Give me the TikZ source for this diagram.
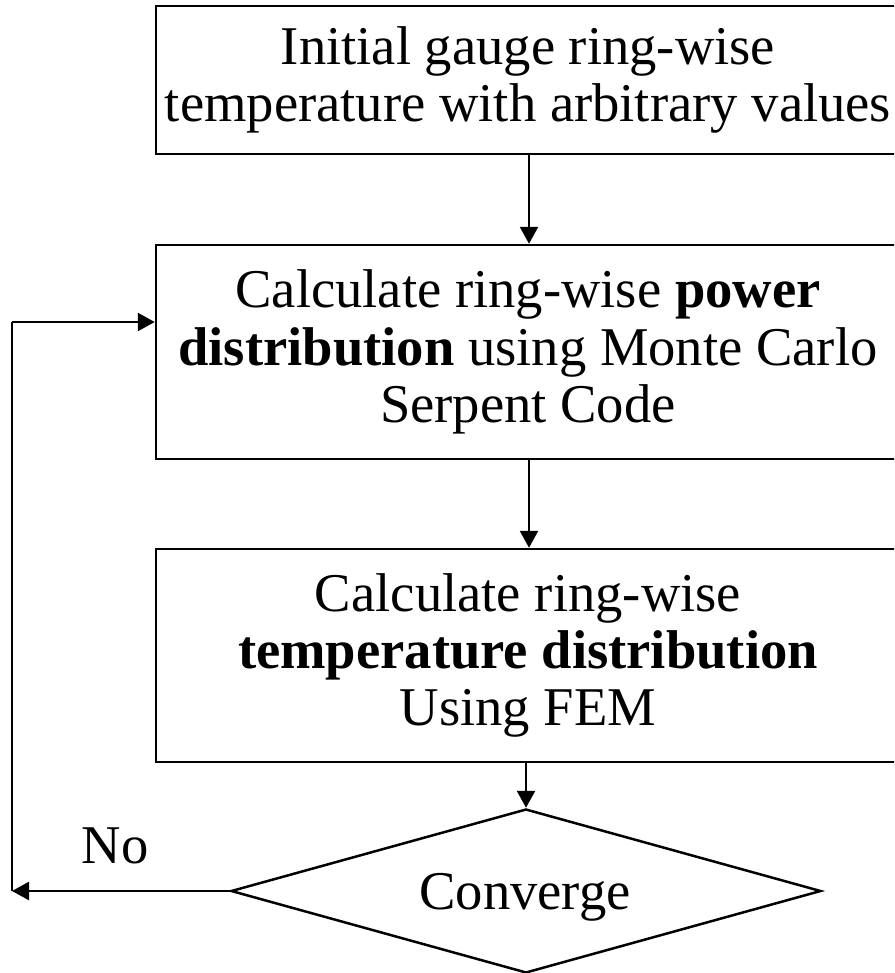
\documentclass[tikz,border=0pt]{standalone}
\usepackage{fontspec}
\setmainfont{Liberation Serif}
\usetikzlibrary{shapes.geometric,arrows.meta}

\tikzset{
  flowbox/.style={draw, line width=1.25pt, rectangle, align=center,
    minimum width=372pt, inner sep=0pt,
    font=\fontsize{27.3pt}{28.6pt}\selectfont},
  decide/.style={draw, line width=1.25pt, diamond, inner sep=0pt,
    minimum width=295pt, minimum height=82pt,
    font=\fontsize{27.3pt}{28.6pt}\selectfont},
  flowlabel/.style={inner sep=0pt, font=\fontsize{27.3pt}{28.6pt}\selectfont},
  arr/.style={line width=1.25pt, -{Triangle[length=8.5pt,width=9pt]}},
  link/.style={line width=1pt}
}

\begin{document}
\begin{tikzpicture}[x=0.5pt, y=-0.5pt]
  \useasboundingbox (0,0) rectangle (894,973);
  \clip (0,0) rectangle (894,973);

  % process boxes (they run past the right margin)
  \node[flowbox, minimum height=74pt] (init) at (528,80)
    {Initial gauge ring-wise\\temperature with arbitrary values};
  \node[flowbox, minimum height=107pt] (power) at (528,352)
    {Calculate ring-wise \textbf{power}\\\textbf{distribution} using Monte Carlo\\Serpent Code};
  \node[flowbox, minimum height=106.5pt] (temp) at (528,655.5)
    {Calculate ring-wise\\\textbf{temperature distribution}\\Using FEM};

  % convergence check
  \node[decide] (conv) at (526,891) {};
  \node[flowlabel] at (525,897) {Converge};

  % main flow
  \draw[arr] (init.south -| 529,0) -- (power.north -| 529,0);
  \draw[arr] (power.south -| 529,0) -- (temp.north -| 529,0);
  \draw[arr] (temp.south -| conv.north) -- (conv.north);

  % feedback loop
  \coordinate (back) at (12,891);
  \draw[arr] (conv.west) -- (back);
  \node[flowlabel] (no) at (115,846) {No};
  \coordinate (loopup) at (12,322);
  \draw[link] (back) -- (loopup);
  \draw[arr] (loopup) -- ([yshift=15pt]power.west);
\end{tikzpicture}
\end{document}
